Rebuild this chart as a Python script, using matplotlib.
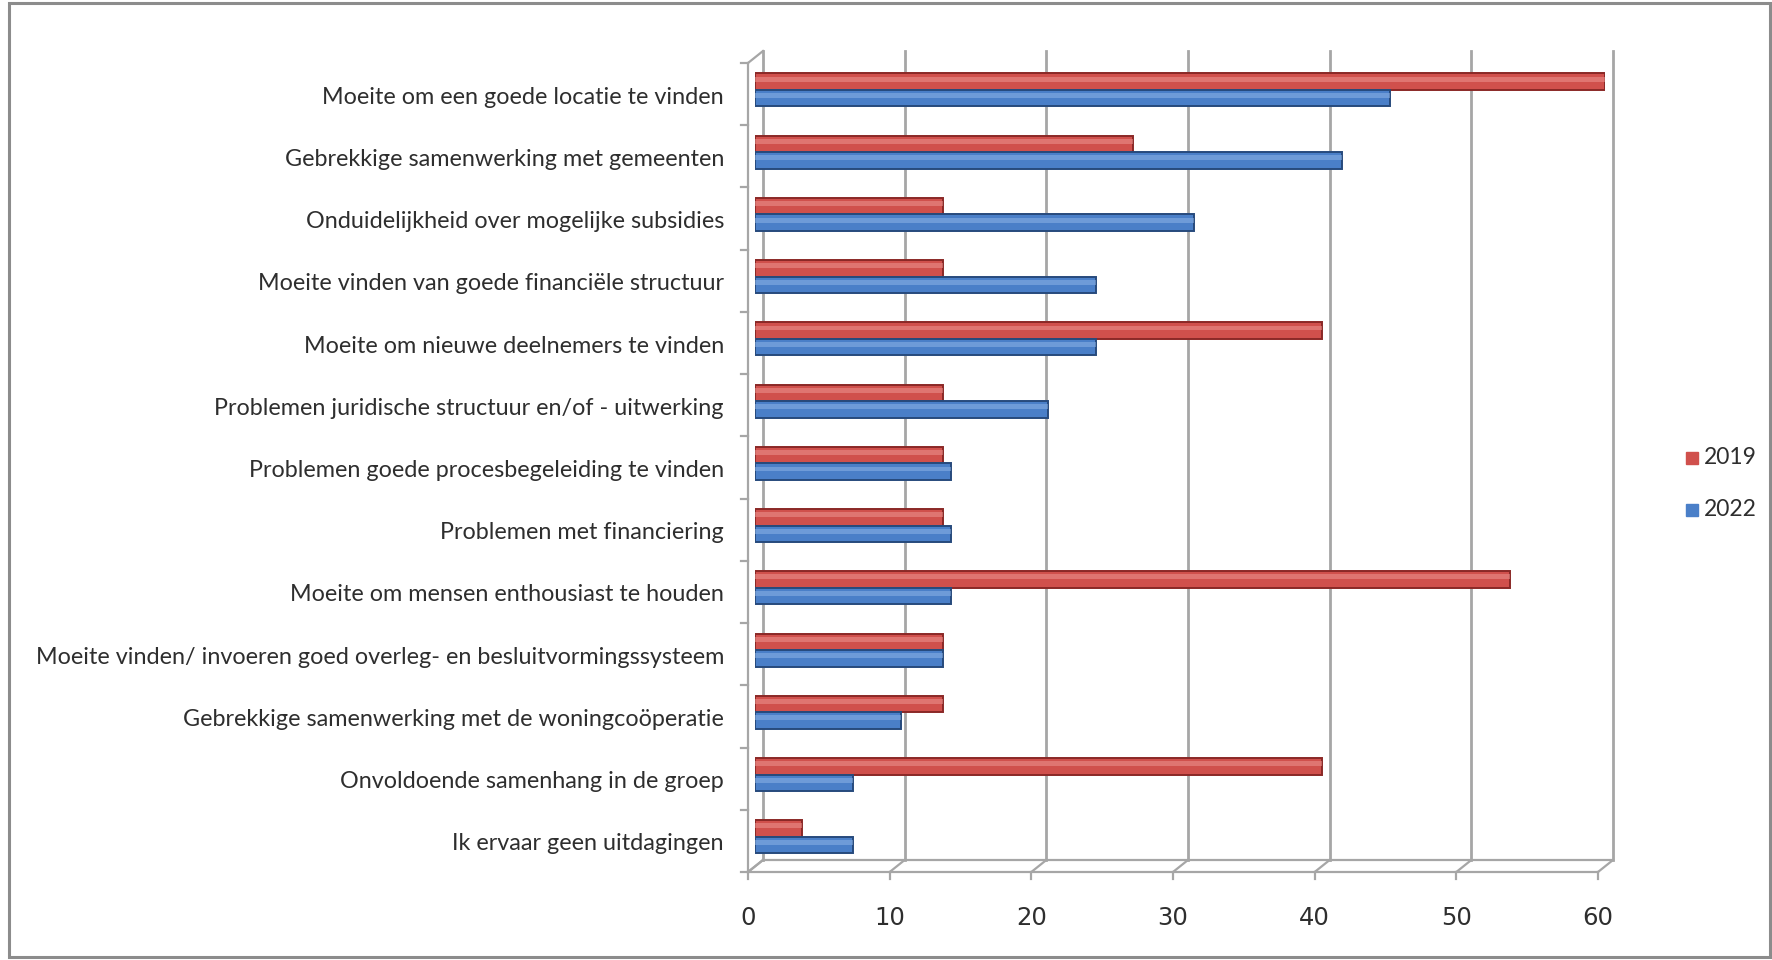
import numpy as np
import matplotlib.pyplot as plt
from matplotlib.transforms import ScaledTranslation
from matplotlib.patches import Rectangle

categories = [
    "Moeite om een goede locatie te vinden",
    "Gebrekkige samenwerking met gemeenten",
    "Onduidelijkheid over mogelijke subsidies",
    "Moeite vinden van goede financiële structuur",
    "Moeite om nieuwe deelnemers te vinden",
    "Problemen juridische structuur en/of - uitwerking",
    "Problemen goede procesbegeleiding te vinden",
    "Problemen met financiering",
    "Moeite om mensen enthousiast te houden",
    "Moeite vinden/ invoeren goed overleg- en besluitvormingssysteem",
    "Gebrekkige samenwerking met de woningcoöperatie",
    "Onvoldoende samenhang in de groep",
    "Ik ervaar geen uitdagingen",
]
v2019 = [60, 26.7, 13.3, 13.3, 40, 13.3, 13.3, 13.3, 53.3, 13.3, 13.3, 40, 3.3]
v2022 = [44.8, 41.4, 31.0, 24.1, 24.1, 20.7, 13.8, 13.8, 13.8, 13.3, 10.3, 6.9, 6.9]
xticks = [0, 10, 20, 30, 40, 50, 60]
series = ["2019", "2022"]

red, red_dark, red_light = "#D0504C", "#8A2826", "#EC9590"
blue, blue_dark, blue_light = "#4A7FC8", "#274A7C", "#8CB3E6"
grid_col = "#A6A6A6"
txt_col = "#2E2E2E"

W, H = 1772, 960
fig = plt.figure(figsize=(W / 100, H / 100), dpi=100)

# outer frame
fig.patches.append(Rectangle((9 / W, 3 / H), (W - 11) / W, (H - 6) / H,
                             transform=fig.transFigure, fill=False,
                             edgecolor="#8C8C8C", lw=2.2))

x0, x60, ytop, ybot = 755, 1605, 57, 866
ax = fig.add_axes([x0 / W, (H - ybot) / H, (x60 - x0) / W, (ybot - ytop) / H])
ax.set_xlim(0, 60)
n = len(categories)
ax.set_ylim(n - 0.5, -0.5)
ax.axis("off")


def off(dx, dy):
    return ax.transData + ScaledTranslation(dx / 100, dy / 100, fig.dpi_scale_trans)


back = off(8, 6)
front = off(-7, -6)
lw_g = 2.0

# back wall grid lines
for xv in xticks:
    ax.plot([xv, xv], [n - 0.5, -0.5], color=grid_col, lw=lw_g, transform=back,
            clip_on=False, zorder=1)
# left wall
ax.plot([0, 0], [n - 0.5, -0.5], color=grid_col, lw=1.6, transform=front,
        clip_on=False, zorder=1)
for yy in (-0.5, n - 0.5):
    p1 = front.transform((0, yy))
    p2 = back.transform((0, yy))
    ax.plot([p1[0], p2[0]], [p1[1], p2[1]], color=grid_col, lw=1.6,
            transform=None, clip_on=False, zorder=1)
for yy in np.arange(-0.5, n, 1.0):
    p = front.transform((0, yy))
    ax.plot([p[0] - 7, p[0]], [p[1], p[1]], color=grid_col, lw=1.6,
            transform=None, clip_on=False)
# floor
ax.plot([0, 60], [n - 0.5, n - 0.5], color=grid_col, lw=1.6, transform=front,
        clip_on=False, zorder=1)
ax.plot([0, 60], [n - 0.5, n - 0.5], color=grid_col, lw=1.6, transform=back,
        clip_on=False, zorder=1)
for xv in xticks:
    p1 = front.transform((xv, n - 0.5))
    p2 = back.transform((xv, n - 0.5))
    ax.plot([p1[0], p2[0]], [p1[1], p2[1]], color=grid_col, lw=1.6,
            transform=None, clip_on=False, zorder=1)
    ax.plot([p1[0], p1[0]], [p1[1], p1[1] - 7], color=grid_col, lw=1.6,
            transform=None, clip_on=False)
    ax.text(p1[0], p1[1] - 46, str(xv), transform=None, ha="center",
            va="center", fontsize=17.5, color=txt_col, family="DejaVu Sans")

# bars
y = np.arange(n) + 0.03
bh = 0.265
for vals, off_y, c, cd, cl in ((v2019, -bh / 2, red, red_dark, red_light),
                               (v2022, bh / 2, blue, blue_dark, blue_light)):
    ax.barh(y + off_y, vals, height=bh, color=c, edgecolor=cd, lw=1.4, zorder=3)
    ax.barh(y + off_y - bh * 0.16, vals, height=bh * 0.3, color=cl,
            lw=0, zorder=4, alpha=0.55)

# category labels
for i, lab in enumerate(categories):
    p = ax.transData.transform((0, i))
    ax.text(p[0] - 31, p[1] - 9, lab, transform=None, ha="right", va="center",
            fontsize=16.8, color=txt_col, family="Lato")

# legend
for j, (s, c) in enumerate(zip(series, (red, blue))):
    yp = H - (458 + j * 52)
    fig.patches.append(Rectangle(((1686) / W, (yp - 6) / H), 12 / W, 12 / H,
                                 transform=fig.transFigure, color=c))
    fig.text(1704 / W, yp / H, s, ha="left", va="center", fontsize=16.5,
             color=txt_col, family="Lato")

fig.savefig("out.png", dpi=100, facecolor="white")
